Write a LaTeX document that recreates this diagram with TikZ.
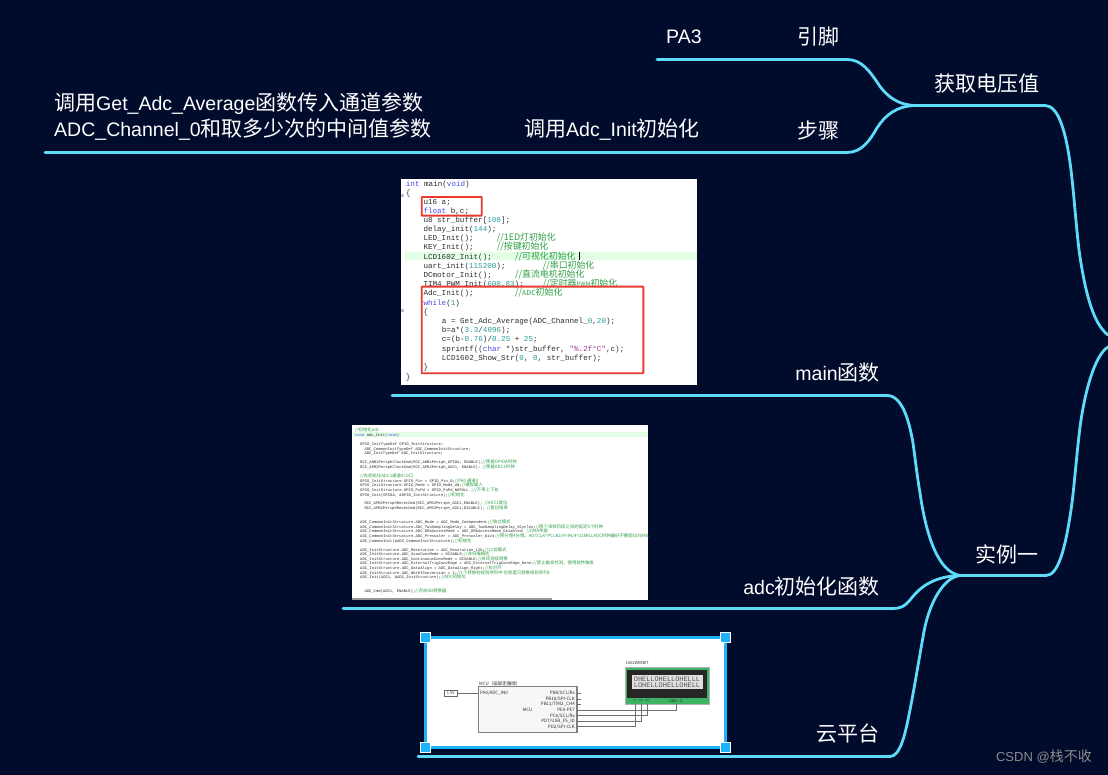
\documentclass[tikz,border=0pt]{standalone}
\usepackage{fontspec}
\setmainfont{Noto Sans CJK SC}
\setmonofont{Liberation Mono}
\newfontfamily\cjkf{Noto Sans CJK SC}
\newfontfamily\latf[Scale=0.93]{Liberation Sans}
\definecolor{bgc}{HTML}{010B2C}
\definecolor{linec}{HTML}{5FDBFA}
\definecolor{framec}{HTML}{1FB2F8}
\definecolor{redc}{HTML}{EA3A30}
\definecolor{greenc}{HTML}{2F9E44}
\definecolor{kwc}{HTML}{4A4AE8}
\definecolor{numc}{HTML}{2A9A9A}
\definecolor{strc}{HTML}{A03AA0}
\definecolor{codec}{HTML}{2E2E2E}
\definecolor{bandc}{HTML}{E2FFE6}
\definecolor{wirec}{HTML}{707070}
\definecolor{lcdg}{HTML}{3CB464}
\tikzset{
  label/.style={text=white,inner sep=0pt,font=\fontsize{21}{21}\selectfont},
  branch/.style={draw=linec,line width=2.8pt,line cap=round},
  shot/.style={fill=white,draw=none},
  code/.style={anchor=base west,inner sep=0pt,text=codec,font=\ttfamily\fontsize{7.6}{8}\selectfont},
  tiny/.style={anchor=base west,inner sep=0pt,text=codec,font=\ttfamily\fontsize{3.85}{4}\selectfont},
  redbox/.style={draw=redc,line width=1.9pt,rounded corners=0.5pt},
  handle/.style={fill=framec,draw=white,line width=1pt,minimum size=10pt,inner sep=0pt},
  pin/.style={inner sep=0pt,text=codec,font=\fontsize{4.5}{4.5}\selectfont},
}
\newcommand{\lf}[1]{{\latf #1}}
\newcommand{\cm}[1]{{\cjkf\color{greenc}\fontsize{8.9}{9}\selectfont #1}}
\newcommand{\cs}[1]{{\cjkf\color{greenc}\fontsize{4.4}{5}\selectfont #1}}
\newcommand{\kw}[1]{{\color{kwc}#1}}
\newcommand{\nm}[1]{{\color{numc}#1}}
\newcommand{\st}[1]{{\color{strc}#1}}
\begin{document}
\catcode`\_=12
\begin{tikzpicture}[x=1pt,y=-1pt]
\useasboundingbox (0,0) rectangle (1108,775);
\fill[bgc] (0,0) rectangle (1108,775);

% branch coordinates
\coordinate (pa) at (657,59.5);
\coordinate (pb) at (847,59.5);
\coordinate (sa) at (45,152.5);
\coordinate (sb) at (847,152.5);
\coordinate (va) at (915,105.5);
\coordinate (vb) at (1045,105.5);
\coordinate (ra) at (1108,335);
\coordinate (rb) at (1108,347);
\coordinate (ea) at (960,575.5);
\coordinate (eb) at (1046,575.5);
\coordinate (ma) at (392,395.5);
\coordinate (mb) at (887,395.5);
\coordinate (aa) at (343,608.5);
\coordinate (ab) at (893,608.5);
\coordinate (ca) at (418,756.5);
\coordinate (cb) at (890,756.5);

\draw[branch] (pa) -- (pb) .. controls (862,59.5) and (870,72) .. (877,82) .. controls (885,95) and (897,105) .. (va);
\draw[branch] (sa) -- (sb) .. controls (862,152.5) and (870,140) .. (877,128) .. controls (885,115) and (897,106) .. (va);
\draw[branch] (va) -- (vb) .. controls (1058,105.5) and (1066,130) .. (1071,170) .. controls (1074,195) and (1076,225) .. (1079,250) .. controls (1086,300) and (1095,325) .. (ra);
\draw[branch] (rb) .. controls (1095,355) and (1085,390) .. (1080,427) .. controls (1076,460) and (1074,490) .. (1071,510) .. controls (1065,550) and (1058,575.5) .. (eb) -- (ea);
\draw[branch] (ma) -- (mb) .. controls (902,395.5) and (909,420) .. (913,443) .. controls (916,465) and (917,475) .. (920,493) .. controls (926,535) and (938,572) .. (ea);
\draw[branch] (aa) -- (ab) .. controls (905,608.5) and (908,602) .. (915,594) .. controls (925,583) and (940,576) .. (ea);
\draw[branch] (ca) -- (cb) .. controls (900,756.5) and (905,735) .. (909,715) .. controls (914,690) and (918,665) .. (923,637) .. controls (929,600) and (945,577) .. (ea);

% labels
\node[label,anchor=west] (tpa) at (666,37) {\lf{PA3}};
\node[label,anchor=west] (tyj) at (797,37) {引脚};
\node[label,anchor=west] (tvolt) at (934,84) {获取电压值};
\node[label,anchor=west] (tbz) at (797,130) {步骤};
\node[label,anchor=west] (tinit) at (524,130) {调用\lf{Adc_Init}初始化};
\node[label,anchor=west] (tget) at (54,104) {调用\lf{Get_Adc_Average}函数传入通道参数};
\node[label,anchor=west] (tch) at (54,130) {\lf{ADC_Channel_0}和取多少次的中间值参数};
\node[label,anchor=east] (tmain) at (880,373) {\lf{main}函数};
\node[label,anchor=east] (tadc) at (880,587) {\lf{adc}初始化函数};
\node[label,anchor=east] (tcloud) at (880,734) {云平台};
\node[label,anchor=west] (tex) at (975,554) {实例一};
\node[anchor=east,inner sep=0pt,text=black!45,font=\fontsize{14}{14}\selectfont] (tcsdn) at (1092,757) {\lf{CSDN @}栈不收};

% main image
\fill[shot] (401,179.5) rectangle (697,385);
\fill[bandc] (405,252) rectangle (697,260.3);
\fill[black!25] (401,194) rectangle (404,197);
\fill[black!25] (401,309) rectangle (404,312);
\node[code] (m1) at (405.7,187) {\kw{int} main(\kw{void})};
\node[code] (m2) at (405.7,196) {\{};
\node[code] (m3) at (423.3,205) {u16 a;};
\node[code] (m4) at (423.3,214) {\kw{float} b,c;};
\node[code] (m5) at (423.3,223) {u8 str_buffer[\nm{100}];};
\node[code] (m6) at (423.3,232) {delay_init(\nm{144});};
\node[code] (m7) at (423.3,241) {LED_Init();};
\node[code] (m7c) at (496.7,241) {\cm{//1ED灯初始化}};
\node[code] (m8) at (423.3,250) {KEY_Init();};
\node[code] (m8c) at (496.7,250) {\cm{//按键初始化}};
\node[code] (m9) at (423.3,260) {LCD1602_Init();};
\node[code] (m9c) at (515,260) {\cm{//可视化初始化}};
\draw[black] (578.7,252) -- (578.7,260.3);
\node[code] (m10) at (423.3,269) {uart_init(\nm{115200});};
\node[code] (m10c) at (542.7,269) {\cm{//串口初始化}};
\node[code] (m11) at (423.3,278) {DCmotor_Init();};
\node[code] (m11c) at (515,278) {\cm{//直流电机初始化}};
\node[code] (m12) at (423.3,287) {TIM4_PWM_Init(\nm{600},\nm{83});};
\node[code] (m12c) at (542.7,287) {\cm{//定时器{\fontsize{6}{6}\selectfont PWM}初始化}};
\node[code] (m13) at (423.3,296) {Adc_Init();};
\node[code] (m13c) at (515,296) {\cm{//{\fontsize{7}{7}\selectfont ADC}初始化}};
\node[code] (m14) at (423.3,306) {\kw{while}(\nm{1})};
\node[code] (m15) at (423.3,315) {\{};
\node[code] (m16) at (441.7,324) {a = Get_Adc_Average(ADC_Channel_\nm{0},\nm{20});};
\node[code] (m17) at (441.7,333) {b=a*(\nm{3.3}/\nm{4096});};
\node[code] (m18) at (441.7,342) {c=(b-\nm{0.76})/\nm{0.25} + \nm{25};};
\node[code] (m19) at (441.7,352) {sprintf((\kw{char} *)str_buffer, \st{"\%.2f°C"},c);};
\node[code] (m20) at (441.7,361) {LCD1602_Show_Str(\nm{0}, \nm{0}, str_buffer);};
\node[code] (m21) at (423.3,370) {\}};
\node[code] (m22) at (405.7,379) {\}};
\draw[redbox] (421.7,197) rectangle (481.7,215.7);
\draw[redbox] (421.7,286.7) rectangle (643.3,373.3);

% adc image
\fill[shot] (352,425) rectangle (648,600);
\fill[bandc] (353,432.3) rectangle (648,436.7);
\fill[black!40] (352,598) rectangle (552,600);
\begin{scope}
\clip (352,425) rectangle (648,600);
\node[tiny] (a1) at (355,431.3) {\cs{//初始化adc}};
\node[tiny] (a2) at (355,436) {\kw{void} Adc_Init(\kw{void})};
\node[tiny] (a3) at (360,445.3) {GPIO_InitTypeDef  GPIO_InitStructure;};
\node[tiny] (a4) at (364.3,450) {ADC_CommonInitTypeDef ADC_CommonInitStructure;};
\node[tiny] (a5) at (364.3,454.6) {ADC_InitTypeDef       ADC_InitStructure;};
\node[tiny] (a6) at (360,463.6) {RCC_AHB1PeriphClockCmd(RCC_AHB1Periph_GPIOA, ENABLE);\cs{//使能GPIOA时钟}};
\node[tiny] (a7) at (360,468.3) {RCC_APB2PeriphClockCmd(RCC_APB2Periph_ADC1, ENABLE); \cs{//使能ADC1时钟}};
\node[tiny] (a8) at (360,477.3) {\cs{//先初始化ADC1通道0 IO口}};
\node[tiny] (a9) at (360,482) {GPIO_InitStructure.GPIO_Pin = GPIO_Pin_0;\cs{//PA0 通道0}};
\node[tiny] (a10) at (360,486.6) {GPIO_InitStructure.GPIO_Mode = GPIO_Mode_AN;\cs{//模拟输入}};
\node[tiny] (a11) at (360,491.3) {GPIO_InitStructure.GPIO_PuPd = GPIO_PuPd_NOPULL ;\cs{//不带上下拉}};
\node[tiny] (a12) at (360,496) {GPIO_Init(GPIOA, \&GPIO_InitStructure);\cs{//初始化}};
\node[tiny] (a13) at (364.3,504.6) {RCC_APB2PeriphResetCmd(RCC_APB2Periph_ADC1,ENABLE);   \cs{//ADC1复位}};
\node[tiny] (a14) at (364.3,509.3) {RCC_APB2PeriphResetCmd(RCC_APB2Periph_ADC1,DISABLE);   \cs{//复位结束}};
\node[tiny] (a15) at (360,523.6) {ADC_CommonInitStructure.ADC_Mode = ADC_Mode_Independent;\cs{//独立模式}};
\node[tiny] (a16) at (360,528) {ADC_CommonInitStructure.ADC_TwoSamplingDelay = ADC_TwoSamplingDelay_5Cycles;\cs{//两个采样阶段之间的延迟5个时钟}};
\node[tiny] (a17) at (360,532.6) {ADC_CommonInitStructure.ADC_DMAAccessMode = ADC_DMAAccessMode_Disabled; \cs{//DMA失能}};
\node[tiny] (a18) at (360,537.3) {ADC_CommonInitStructure.ADC_Prescaler = ADC_Prescaler_Div4;\cs{//预分频4分频。ADCCLK=PCLK2/4=84/4=21Mhz,ADC时钟最好不要超过36Mhz}};
\node[tiny] (a19) at (360,542) {ADC_CommonInit(\&ADC_CommonInitStructure);\cs{//初始化}};
\node[tiny] (a20) at (360,551) {ADC_InitStructure.ADC_Resolution = ADC_Resolution_12b;\cs{//12位模式}};
\node[tiny] (a21) at (360,555.6) {ADC_InitStructure.ADC_ScanConvMode = DISABLE;\cs{//非扫描模式}};
\node[tiny] (a22) at (360,560.3) {ADC_InitStructure.ADC_ContinuousConvMode = DISABLE;\cs{//关闭连续转换}};
\node[tiny] (a23) at (360,564.6) {ADC_InitStructure.ADC_ExternalTrigConvEdge = ADC_ExternalTrigConvEdge_None;\cs{//禁止触发检测，使用软件触发}};
\node[tiny] (a24) at (360,569.3) {ADC_InitStructure.ADC_DataAlign = ADC_DataAlign_Right;\cs{//右对齐}};
\node[tiny] (a25) at (360,574) {ADC_InitStructure.ADC_NbrOfConversion = 1;\cs{//1个转换在规则序列中 也就是只转换规则序列1}};
\node[tiny] (a26) at (360,578.6) {ADC_Init(ADC1, \&ADC_InitStructure);\cs{//ADC初始化}};
\node[tiny] (a27) at (364.3,592) {ADC_Cmd(ADC1, ENABLE);\cs{//开启AD转换器}};
\end{scope}

% cloud image
\fill[shot] (425.7,637.3) rectangle (725,747.3);
\draw[framec,line width=3pt] (425.7,637.3) rectangle (725,747.3);
\node[handle] (h1) at (425.7,637.3) {};
\node[handle] (h2) at (725,637.3) {};
\node[handle] (h3) at (425.7,747.3) {};
\node[handle] (h4) at (725,747.3) {};

% schematic
\node[draw=black!60,line width=0.8pt,minimum width=12.7pt,minimum height=5.3pt,inner sep=0pt,font=\fontsize{3.8}{4}\selectfont,text=codec] (inp) at (450.7,693.3) {1.5V};
\node[draw=black!50,fill=black!3,line width=1.1pt,minimum width=98.4pt,minimum height=45.7pt,inner sep=0pt] (mcu) at (527.8,709.7) {};
\node[pin,anchor=west] (mcut) at (479,684) {MCU（画架定雅晴）};
\node[pin,anchor=west] (p0) at (480,693.3) {PA0/ADC_IN0};
\node[pin] (mcun) at (527.5,710) {MCU};
\node[pin,anchor=east] (r1) at (575,693.3) {PB8/SCL/Rx};
\node[pin,anchor=east] (r2) at (575,699) {PB10/SPI-CLK};
\node[pin,anchor=east] (r3) at (575,704.3) {PB11/TIM2_CH4};
\node[pin,anchor=east] (r4) at (575,710) {PE0-PE7};
\node[pin,anchor=east] (r5) at (575,715.7) {PC6/SCL/Rx};
\node[pin,anchor=east] (r6) at (575,721) {PD7/USB_FS_ID};
\node[pin,anchor=east] (r7) at (575,726.7) {PD2/SPI-CLK};
\coordinate (s1) at (581,693.3);
\coordinate (s2) at (581,699);
\coordinate (s3) at (581,704.3);
\draw[wirec,line width=0.6pt] (577.3,693.3) -- (s1);
\draw[wirec,line width=0.6pt] (577.3,699) -- (s2);
\draw[wirec,line width=0.6pt] (577.3,704.3) -- (s3);
\draw[wirec,line width=0.8pt] (inp.east) -- (478.3,693.3);

\node[fill=lcdg,draw=black!30,line width=0.3pt,minimum width=84pt,minimum height=37pt,inner sep=0pt] (lcd) at (667,685.5) {};
\node[fill=black!85,minimum width=80pt,minimum height=28pt,inner sep=0pt] (lcdf) at (667,684) {};
\node[fill=black!12,minimum width=71pt,minimum height=14.5pt,inner sep=0pt,font=\ttfamily\fontsize{6.9}{6}\selectfont,text=black!65,align=left] (lcds) at (667,682) {OHELLOHELLOHELLL\\LOHELLOHELLOHELL};
\node[pin,anchor=west,font=\fontsize{4}{4}\selectfont] (lcdt) at (625.5,663.5) {1602WIMBIT};
\node[pin,font=\fontsize{3.2}{3}\selectfont] (lr1) at (635,701) {rs};
\node[pin,font=\fontsize{3.2}{3}\selectfont] (lr2) at (641,701) {rw};
\node[pin,font=\fontsize{3.2}{3}\selectfont] (lr3) at (647.3,701) {en};
\node[pin,font=\fontsize{3.6}{3}\selectfont] (lr4) at (676,701) {DB[0..7]};
\coordinate (w1) at (676,710);
\coordinate (w2) at (647.3,715.7);
\coordinate (w3) at (641,721);
\coordinate (w4) at (635,726.7);
\draw[wirec,line width=1pt] (577.3,710) -- (w1) -- (676,704);
\draw[wirec,line width=1pt] (577.3,715.7) -- (w2) -- (647.3,704);
\draw[wirec,line width=1pt] (577.3,721) -- (w3) -- (641,704);
\draw[wirec,line width=1pt] (577.3,726.7) -- (w4) -- (635,704);
\end{tikzpicture}
\end{document}
